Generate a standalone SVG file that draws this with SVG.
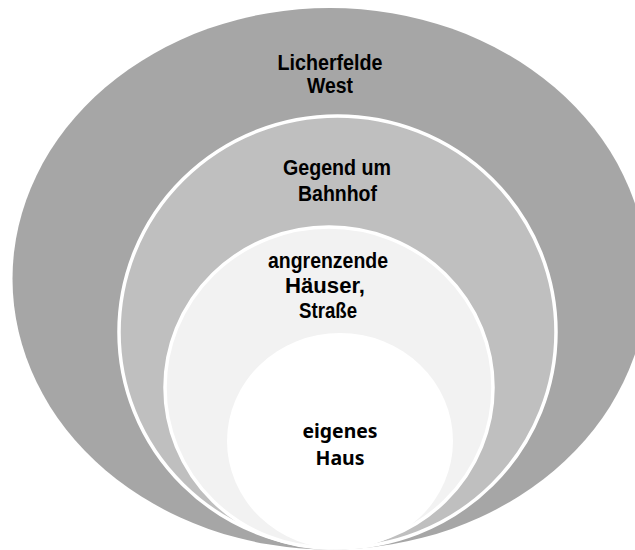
<svg xmlns="http://www.w3.org/2000/svg" width="635" height="550" viewBox="0 0 635 550">
<style>
.ring{stroke:#ffffff;stroke-width:3.5}
.lbl{font-family:"Liberation Sans",Arial,sans-serif;font-weight:bold;font-size:22.5px;fill:#000000;text-anchor:middle}
.lbl2{font-family:"Noto Sans","Open Sans",sans-serif;font-weight:bold;font-size:20px;fill:#000000;text-anchor:middle}
</style>
<rect x="0" y="0" width="635" height="550" fill="#ffffff"/>
<g id="node-licherfelde-west">
<ellipse cx="330" cy="278.75" rx="317.5" ry="270.75" fill="#a6a6a6"/>
<text class="lbl" x="330" y="70" textLength="105" lengthAdjust="spacingAndGlyphs">Licherfelde</text>
<text class="lbl" x="330" y="93" textLength="46" lengthAdjust="spacingAndGlyphs">West</text>
</g>
<g id="node-gegend-um-bahnhof">
<ellipse class="ring" cx="337.5" cy="332" rx="218.5" ry="216" fill="#bfbfbf"/>
<text class="lbl" x="337" y="175" textLength="108" lengthAdjust="spacingAndGlyphs">Gegend um</text>
<text class="lbl" x="337.5" y="201" textLength="79" lengthAdjust="spacingAndGlyphs">Bahnhof</text>
</g>
<g id="node-angrenzende-haeuser">
<ellipse class="ring" cx="329" cy="387.5" rx="164" ry="160.5" fill="#f2f2f2"/>
<text class="lbl" x="328" y="268" textLength="120" lengthAdjust="spacingAndGlyphs">angrenzende</text>
<text class="lbl" x="325" y="293" textLength="80" lengthAdjust="spacingAndGlyphs">Häuser,</text>
<text class="lbl" x="328" y="318" textLength="58" lengthAdjust="spacingAndGlyphs">Straße</text>
</g>
<g id="node-eigenes-haus">
<ellipse cx="340" cy="441" rx="113" ry="108" fill="#ffffff"/>
<text class="lbl2" x="340" y="438" textLength="75" lengthAdjust="spacingAndGlyphs">eigenes</text>
<text class="lbl2" x="340" y="465" textLength="49" lengthAdjust="spacingAndGlyphs">Haus</text>
</g>
<g id="connectors"></g>
</svg>
